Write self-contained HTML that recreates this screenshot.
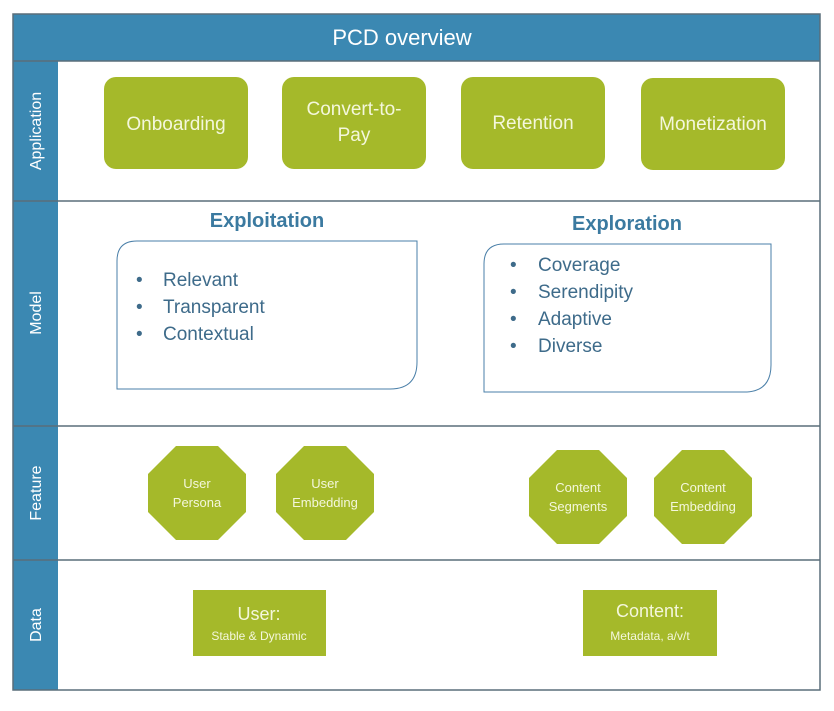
<!DOCTYPE html>
<html><head><style>body{margin:0;background:#fff}</style></head><body>
<svg width="834" height="706" xmlns="http://www.w3.org/2000/svg" font-family="Liberation Sans, sans-serif">
<rect x="0" y="0" width="834" height="706" fill="#fff"/>
<rect x="13" y="14" width="807" height="47" fill="#3b88b2"/>
<rect x="13" y="61" width="45" height="629" fill="#3b88b2"/>
<text x="402" y="45" fill="#fff" font-size="22" text-anchor="middle">PCD overview</text>
<g stroke="#5a6e7a" stroke-width="1.5" fill="none">
<rect x="13" y="14" width="807" height="676"/>
<line x1="13" y1="61" x2="820" y2="61"/>
<line x1="13" y1="201" x2="820" y2="201"/>
<line x1="13" y1="426" x2="820" y2="426"/>
<line x1="13" y1="560" x2="820" y2="560"/>
</g>
<g fill="#fff" font-size="16" text-anchor="middle">
<text transform="translate(41,131) rotate(-90)">Application</text>
<text transform="translate(41,313) rotate(-90)">Model</text>
<text transform="translate(41,493) rotate(-90)">Feature</text>
<text transform="translate(41,625) rotate(-90)">Data</text>
</g>
<g fill="#a5b92a">
<rect x="104" y="77" width="144" height="92" rx="12"/>
<rect x="282" y="77" width="144" height="92" rx="12"/>
<rect x="461" y="77" width="144" height="92" rx="12"/>
<rect x="641" y="78" width="144" height="92" rx="12"/>
<polygon points="176,446 218,446 246,474 246,512 218,540 176,540 148,512 148,474"/>
<polygon points="304,446 346,446 374,474 374,512 346,540 304,540 276,512 276,474"/>
<polygon points="557,450 599,450 627,478 627,516 599,544 557,544 529,516 529,478"/>
<polygon points="682,450 724,450 752,478 752,516 724,544 682,544 654,516 654,478"/>
<rect x="193" y="590" width="133" height="66"/>
<rect x="583" y="590" width="134" height="66"/>
</g>
<g fill="#f4f7dc" font-size="19" text-anchor="middle">
<text x="176" y="130">Onboarding</text>
<text x="354" y="115">Convert-to-</text>
<text x="354" y="141">Pay</text>
<text x="533" y="129">Retention</text>
<text x="713" y="130">Monetization</text>
</g>
<g fill="#f4f7dc" font-size="13" text-anchor="middle">
<text x="197" y="488">User</text>
<text x="197" y="507">Persona</text>
<text x="325" y="488">User</text>
<text x="325" y="507">Embedding</text>
<text x="578" y="492">Content</text>
<text x="578" y="511">Segments</text>
<text x="703" y="492">Content</text>
<text x="703" y="511">Embedding</text>
<text x="259" y="620" font-size="18">User:</text>
<text x="259" y="640" font-size="12">Stable &amp; Dynamic</text>
<text x="650" y="617" font-size="18">Content:</text>
<text x="650" y="640" font-size="12">Metadata, a/v/t</text>
</g>
<g fill="#3b7aa0" font-size="20" font-weight="bold" text-anchor="middle">
<text x="267" y="227">Exploitation</text>
<text x="627" y="230">Exploration</text>
</g>
<g fill="none" stroke="#4a7fa8" stroke-width="1">
<path d="M137,241 H417 V362 Q417,389 390,389 H117 V261 Q117,241 137,241 Z"/>
<path d="M504,244 H771 V365 Q771,392 744,392 H484 V264 Q484,244 504,244 Z"/>
</g>
<g fill="#3e6b8a" font-size="19">
<text x="136" y="286">•</text><text x="163" y="286">Relevant</text>
<text x="136" y="313">•</text><text x="163" y="313">Transparent</text>
<text x="136" y="340">•</text><text x="163" y="340">Contextual</text>
<text x="510" y="271">•</text><text x="538" y="271">Coverage</text>
<text x="510" y="298">•</text><text x="538" y="298">Serendipity</text>
<text x="510" y="325">•</text><text x="538" y="325">Adaptive</text>
<text x="510" y="352">•</text><text x="538" y="352">Diverse</text>
</g>
</svg>
</body></html>
